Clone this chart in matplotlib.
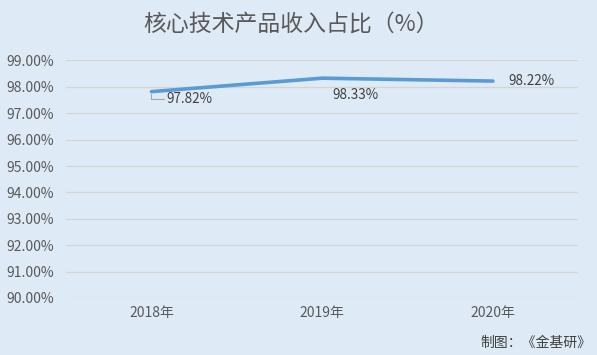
import matplotlib.pyplot as plt

plt.rcParams['font.family'] = ['Noto Sans CJK SC', 'DejaVu Sans']

years = ['2018年', '2019年', '2020年']
share = [97.82, 98.33, 98.22]
labels = ['97.82%', '98.33%', '98.22%']
yticks = [90, 91, 92, 93, 94, 95, 96, 97, 98, 99]

bg = '#DEEAF6'
txt = '#595959'

fig = plt.figure(figsize=(5.97, 3.55), dpi=100, facecolor=bg)
ax = fig.add_axes([0.1106, 0.1606, 0.858, 0.669], facecolor=bg)

x = range(len(years))
ax.plot(x, share, color='#5B9BD5', linewidth=2.6, solid_capstyle='round', zorder=3)

ax.set_xlim(-0.5, len(years) - 0.5)
ax.set_ylim(90, 99)
ax.set_yticks(yticks)
ax.set_yticklabels([f'{v:.2f}%' for v in yticks], color=txt, fontsize=10)
ax.set_xticks(list(x))
ax.set_xticklabels(years, color=txt, fontsize=10)
ax.tick_params(length=0)
ax.tick_params(axis='y', pad=9)
ax.tick_params(axis='x', pad=6)
ax.grid(axis='y', color='#D4D4D4', linewidth=0.9)
ax.set_axisbelow(True)
for s in ax.spines.values():
    s.set_visible(False)

# data labels
ax.annotate(labels[0], (0, share[0]), xytext=(11, -5), textcoords='offset points',
            fontsize=9.7, color='#404040', va='center', ha='left',
            arrowprops=dict(arrowstyle='-', color='#A6A6A6', lw=0.8,
                            connectionstyle='angle,angleA=0,angleB=90,rad=0',
                            shrinkA=0, shrinkB=2))
ax.annotate(labels[1], (1, share[1]), xytext=(24, -12), textcoords='offset points',
            fontsize=9.7, color='#404040', va='center', ha='center')
ax.annotate(labels[2], (2, share[2]), xytext=(11, 0), textcoords='offset points',
            fontsize=9.7, color='#404040', va='center', ha='left')

fig.text(0.487, 0.93, '核心技术产品收入占比（%）', ha='center', va='center',
         fontsize=16.5, color=txt)
fig.text(0.99, 0.033, '制图：《金基研》', ha='right', va='center',
         fontsize=10, color='#404040')

fig.savefig('out.png', dpi=100, facecolor=bg)
